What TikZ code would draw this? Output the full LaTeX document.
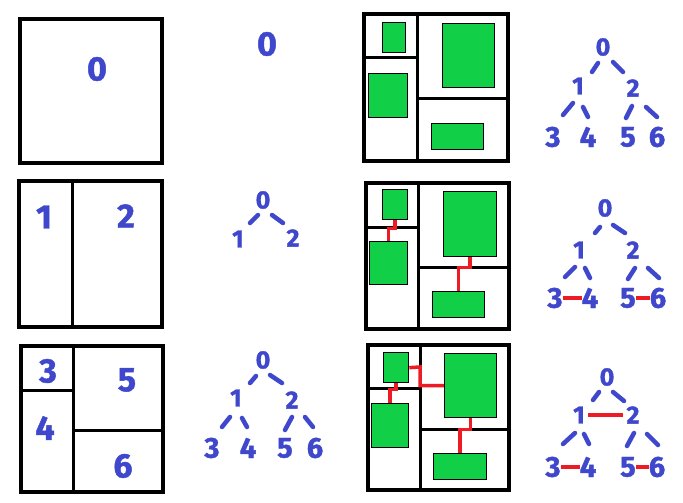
\documentclass[tikz,border=0pt]{standalone}
\usepackage{fontspec}
\setmainfont{Fira Sans}[BoldFeatures={FakeBold=1.3}]
\usetikzlibrary{calc}
\definecolor{pen}{RGB}{63,72,204}
\definecolor{roomgreen}{RGB}{17,208,72}
\definecolor{linkred}{RGB}{237,28,36}
\begin{document}
\begin{tikzpicture}[x=1pt,y=-1pt,
  outer/.style={draw=black,line width=4pt},
  wall/.style={draw=black,line width=3pt},
  room/.style={draw=black,line width=1.3pt,fill=roomgreen,inner sep=0pt,anchor=north west},
  link/.style={draw=linkred,line width=3.5pt},
  penstroke/.style={draw=pen,line width=4.5pt,line cap=round},
  biglbl/.style={text=pen,inner sep=0pt,font=\bfseries\fontsize{34}{34}\selectfont},
  treelbl/.style={text=pen,inner sep=0pt,font=\bfseries\fontsize{25}{25}\selectfont},
  leaflbl/.style={text=pen,inner sep=0pt,font=\bfseries\fontsize{29}{29}\selectfont}]
\useasboundingbox[fill=white] (0,0) rectangle (683,503);

% ---------- column 1: floor plans with labels ----------
\draw[outer] (20,19) rectangle (162,163);
\node[biglbl] (p1r0) at (97,69) {0};

\draw[outer] (19,181) rectangle (162,327);
\draw[wall] (72.5,181) -- (72.5,327);
\node[biglbl] (p2r1) at (44,217) {1};
\node[biglbl] (p2r2) at (126,216) {2};

\draw[outer] (21,346) rectangle (163,492);
\draw[wall] (73,346) -- (73,492);
\draw[wall] (21,390) -- (73,390);
\draw[wall] (73,430) -- (163,430);
\node[biglbl] (p3r3) at (48,371) {3};
\node[biglbl] (p3r5) at (127,380) {5};
\node[biglbl] (p3r4) at (45,428) {4};
\node[biglbl] (p3r6) at (123,466) {6};

% ---------- column 2: trees ----------
\node[treelbl,font=\bfseries\fontsize{34}{34}\selectfont] (a0) at (267,44) {0};

\node[treelbl] (b0) at (263,200) {0};
\node[treelbl] (b1) at (238,239) {1};
\node[treelbl] (b2) at (293,238) {2};
\draw[penstroke] (250,223) -- (258,215);
\draw[penstroke] (272,215) -- (283,223);

\node[treelbl] (c0) at (263,360) {0};
\node[treelbl] (c1) at (236,398) {1};
\node[treelbl] (c2) at (292,400) {2};
\draw[penstroke] (250,383) -- (256,376);
\draw[penstroke] (270,375) -- (282,383);
\draw[penstroke] (222,427) -- (230,417);
\draw[penstroke] (242,418) -- (247,427);
\draw[penstroke] (285,430) -- (292,417);
\draw[penstroke] (305,417) -- (313,427);
\node[leaflbl] (c3) at (212,448) {3};
\node[leaflbl] (c4) at (248,448) {4};
\node[leaflbl] (c5) at (285,448) {5};
\node[leaflbl] (c6) at (315,448) {6};

% ---------- column 3: floor plans with rooms ----------
% row 1
\draw[outer] (364,14) rectangle (508,161);
\draw[wall] (417,14) -- (417,161);
\draw[wall] (364,58) -- (417,58);
\draw[wall] (417,98) -- (508,98);
\node[room,minimum width=23pt,minimum height=30pt] (q1a) at (382,22) {};
\node[room,minimum width=39pt,minimum height=44pt] (q1b) at (368,73) {};
\node[room,minimum width=52pt,minimum height=64pt] (q1c) at (442,23) {};
\node[room,minimum width=52pt,minimum height=26pt] (q1d) at (431,123) {};

% row 2
\draw[outer] (366,183) rectangle (509,329);
\draw[wall] (418,183) -- (418,329);
\draw[wall] (366,227) -- (418,227);
\draw[wall] (418,267) -- (509,267);
\node[room,minimum width=25pt,minimum height=30pt] (q2a) at (382,189) {};
\node[room,minimum width=38pt,minimum height=43pt] (q2b) at (369,241) {};
\node[room,minimum width=53pt,minimum height=65pt] (q2c) at (443,191) {};
\node[room,minimum width=52pt,minimum height=26pt] (q2d) at (432,291) {};
\draw[link] (q2a.south) -- ($(q2a.south)+(0,8)$) -| (q2b.north);
\draw[link] (q2c.south) -- ($(q2c.south)+(0,10)$) -| (q2d.north);

% row 3
\draw[outer] (368,345) rectangle (509,490);
\draw[wall] (420,345) -- (420,490);
\draw[wall] (368,388) -- (420,388);
\draw[wall] (420,429) -- (509,429);
\node[room,minimum width=25pt,minimum height=30pt] (q3a) at (383,352) {};
\node[room,minimum width=37pt,minimum height=44pt] (q3b) at (371,403) {};
\node[room,minimum width=52pt,minimum height=64pt] (q3c) at (444,353) {};
\node[room,minimum width=53pt,minimum height=26pt] (q3d) at (433,453) {};
\coordinate (j3) at (420,367);
\draw[link] (q3a.south) -- ($(q3a.south)+(0,6)$) -| (q3b.north);
\draw[link] (q3a.east) -- (j3) |- (q3c.west);
\draw[link] (q3c.south) -- ($(q3c.south)+(0,11)$) -| (q3d.north);

% ---------- column 4: trees ----------
% row 1
\node[treelbl] (d0) at (603,47) {0};
\node[treelbl] (d1) at (578,86) {1};
\node[treelbl] (d2) at (633,88) {2};
\draw[penstroke] (592,72) -- (598,63);
\draw[penstroke] (613,62) -- (623,72);
\draw[penstroke] (563,115) -- (573,103);
\draw[penstroke] (583,107) -- (588,117);
\draw[penstroke] (626,118) -- (632,106);
\draw[penstroke] (646,107) -- (657,117);
\node[leaflbl] (d3) at (553,137) {3};
\node[leaflbl] (d4) at (588,137) {4};
\node[leaflbl] (d5) at (628,137) {5};
\node[leaflbl] (d6) at (657,137) {6};

% row 2
\node[treelbl] (e0) at (605,208) {0};
\node[treelbl] (e1) at (579,250) {1};
\node[treelbl] (e2) at (633,250) {2};
\draw[penstroke] (595,233) -- (600,227);
\draw[penstroke] (613,225) -- (625,233);
\draw[penstroke] (565,277) -- (575,267);
\draw[penstroke] (585,268) -- (590,278);
\draw[penstroke] (628,279) -- (635,268);
\draw[penstroke] (648,268) -- (659,278);
\node[leaflbl] (e3) at (555,298) {3};
\node[leaflbl] (e4) at (590,298) {4};
\node[leaflbl] (e5) at (628,298) {5};
\node[leaflbl] (e6) at (658,298) {6};
\draw[link] (e3.east) -- (e4.west);
\draw[link] (e5.east) -- (e6.west);

% row 3
\node[treelbl] (f0) at (607,377) {0};
\node[treelbl] (f1) at (579,415) {1};
\node[treelbl] (f2) at (633,415) {2};
\draw[penstroke] (593,400) -- (599,392);
\draw[penstroke] (613,392) -- (624,401);
\draw[penstroke] (563,444) -- (575,433);
\draw[penstroke] (584,434) -- (589,444);
\draw[penstroke] (627,446) -- (634,433);
\draw[penstroke] (647,434) -- (658,445);
\node[leaflbl] (f3) at (553,467) {3};
\node[leaflbl] (f4) at (588,467) {4};
\node[leaflbl] (f5) at (628,467) {5};
\node[leaflbl] (f6) at (657,467) {6};
\draw[link] ([xshift=3pt]f1.east) -- ([xshift=-3pt]f2.west);
\draw[link] (f3.east) -- (f4.west);
\draw[link] (f5.east) -- (f6.west);
\end{tikzpicture}
\end{document}
